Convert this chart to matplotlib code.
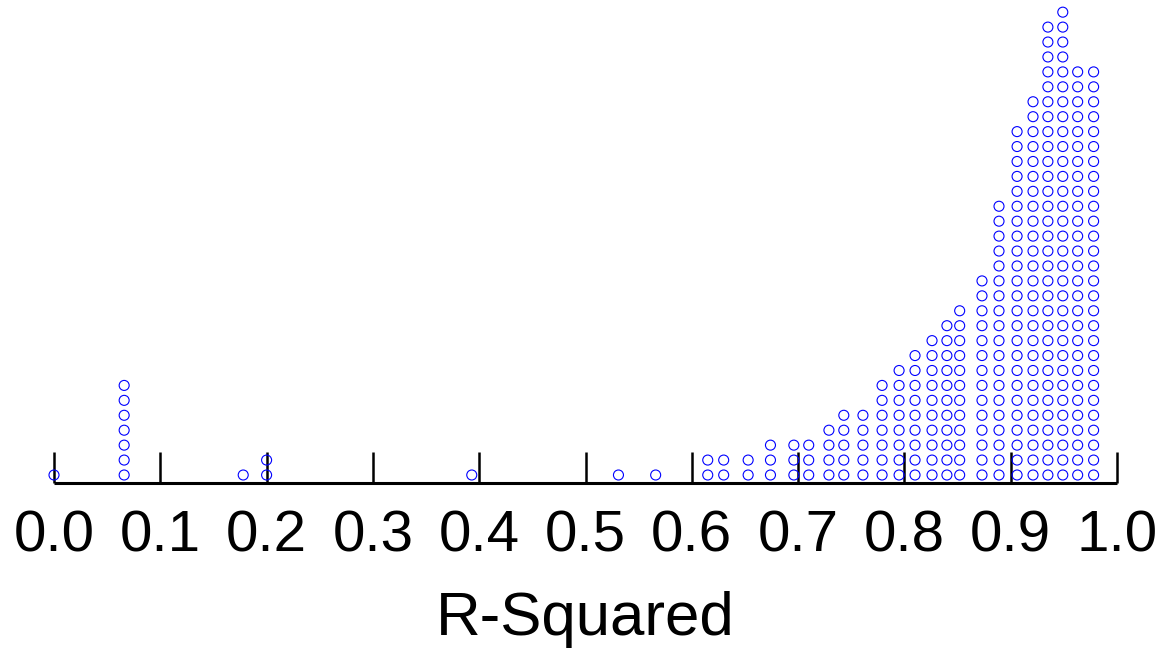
import matplotlib.pyplot as plt
import numpy as np

# R-squared values (distinct) and how many models share each value
r2_values = [0.000, 0.066, 0.178, 0.200, 0.393, 0.531, 0.566,
             0.615, 0.630, 0.653, 0.674, 0.696, 0.710, 0.729, 0.743,
             0.761, 0.779, 0.795, 0.810, 0.826, 0.840, 0.852, 0.873,
             0.889, 0.906, 0.921, 0.935, 0.949, 0.963, 0.978]
r2_counts = [1, 7, 1, 2, 1, 1, 1,
             2, 2, 2, 3, 3, 3, 4, 5,
             5, 7, 8, 9, 10, 11, 12, 14,
             19, 24, 26, 31, 32, 28, 28]
tick_values = [0.0, 0.1, 0.2, 0.3, 0.4, 0.5, 0.6, 0.7, 0.8, 0.9, 1.0]
tick_labels = ["0.0", "0.1", "0.2", "0.3", "0.4", "0.5", "0.6", "0.7", "0.8", "0.9", "1.0"]

plt.rcParams['font.family'] = ['Liberation Sans', 'DejaVu Sans']

fig = plt.figure(figsize=(11.63, 6.49), dpi=100)
ax = fig.add_axes([54 / 1163, 1 - 482.7 / 649, 1063 / 1163, (482.7 - 5) / 649])

# stack identical values like R's stripchart(method="stack")
xs, ys = [], []
for v, n in zip(r2_values, r2_counts):
    for k in range(n):
        xs.append(v)
        ys.append(k)

ax.scatter(xs, ys, s=7.2 ** 2, facecolors='none', edgecolors='#0000ff',
           linewidths=0.8, clip_on=False, zorder=3)

ax.set_xlim(0, 1)
ax.set_ylim(-0.516, 31.48)

for side in ['top', 'left', 'right']:
    ax.spines[side].set_visible(False)
ax.spines['bottom'].set_linewidth(2.2)
ax.spines['bottom'].set_bounds(0, 1)
ax.spines['bottom'].set_capstyle('butt')

ax.set_yticks([])
ax.set_xticks(tick_values)
ax.set_xticklabels(tick_labels)
ax.tick_params(axis='x', direction='in', length=22, width=1.8, pad=19,
               labelsize=42, color='black')

fig.text(585.5 / 1163, 1 - 635 / 649, "R-Squared", ha='center', va='baseline',
         fontsize=44.5)

fig.savefig("out.png", dpi=100)
